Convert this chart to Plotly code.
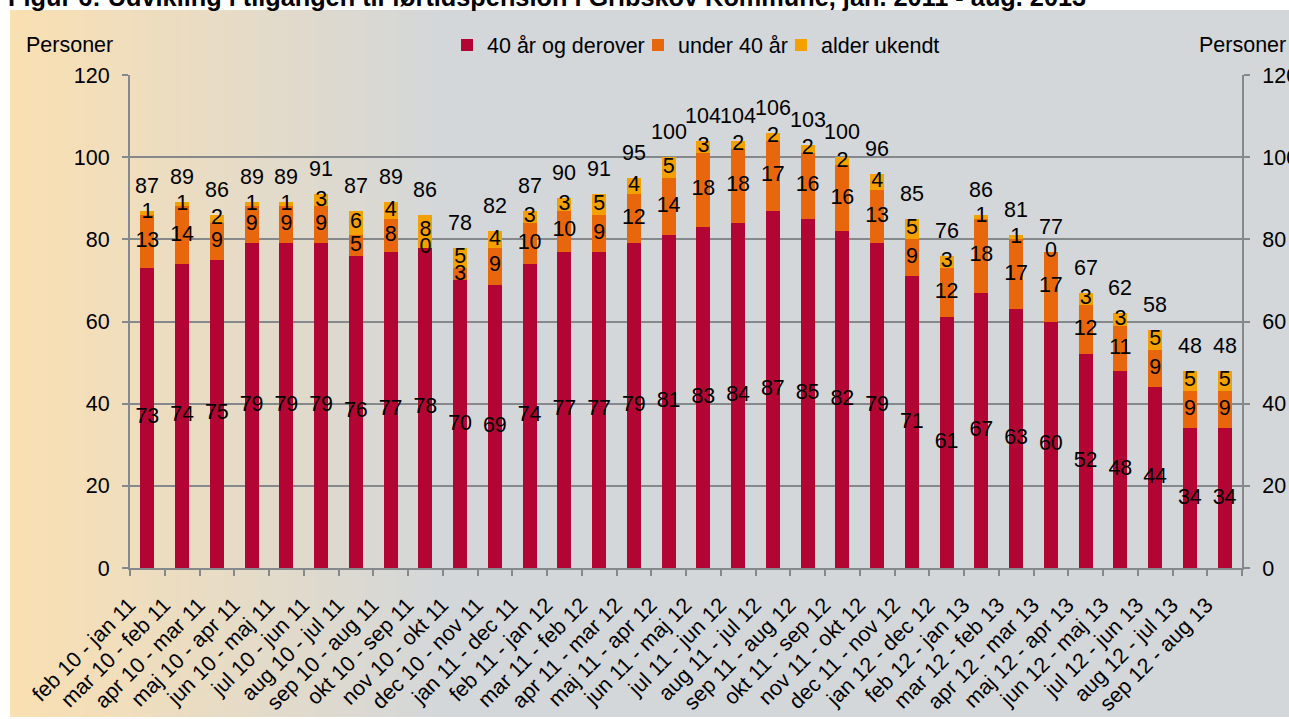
import plotly.graph_objects as go

categories = [
    "feb 10 - jan 11", "mar 10 - feb 11", "apr 10 - mar 11", "maj 10 - apr 11",
    "jun 10 - maj 11", "jul 10 - jun 11", "aug 10 - jul 11", "sep 10 - aug 11",
    "okt 10 - sep 11", "nov 10 - okt 11", "dec 10 - nov 11", "jan 11 - dec 11",
    "feb 11 - jan 12", "mar 11 - feb 12", "apr 11 - mar 12", "maj 11 - apr 12",
    "jun 11 - maj 12", "jul 11 - jun 12", "aug 11 - jul 12", "sep 11 - aug 12",
    "okt 11 - sep 12", "nov 11 - okt 12", "dec 11 - nov 12", "jan 12 - dec 12",
    "feb 12 - jan 13", "mar 12 - feb 13", "apr 12 - mar 13", "maj 12 - apr 13",
    "jun 12 - maj 13", "jul 12 - jun 13", "aug 12 - jul 13", "sep 12 - aug 13",
]
over40 = [73, 74, 75, 79, 79, 79, 76, 77, 78, 70, 69, 74, 77, 77, 79, 81,
          83, 84, 87, 85, 82, 79, 71, 61, 67, 63, 60, 52, 48, 44, 34, 34]
under40 = [13, 14, 9, 9, 9, 9, 5, 8, 0, 3, 9, 10, 10, 9, 12, 14,
           18, 18, 17, 16, 16, 13, 9, 12, 18, 17, 17, 12, 11, 9, 9, 9]
unknown = [1, 1, 2, 1, 1, 3, 6, 4, 8, 5, 4, 3, 3, 5, 4, 5,
           3, 2, 2, 2, 2, 4, 5, 3, 1, 1, 0, 3, 3, 5, 5, 5]
totals = [a + b + c for a, b, c in zip(over40, under40, unknown)]

series_names = ["40 år og derover", "under 40 år", "alder ukendt"]
colors = ["#B30533", "#E9670C", "#F4A100"]
y_ticks = [0, 20, 40, 60, 80, 100, 120]

title_text = "Figur 6: Udvikling i tilgangen til førtidspension i Gribskov Kommune, jan. 2011 - aug. 2013"

W, H = 1289, 719
L, R, T, B = 130, 47, 75, 151
PW, PH = W - L - R, H - T - B
FONT = "Liberation Sans, Arial, sans-serif"
FS = 21.5


def px_x(px):
    return (px - L) / PW


def px_y(py):
    return (H - B - py) / PH


fig = go.Figure()

legend_ids = ["legend", "legend2", "legend3"]
legend_px = [447, 638, 781]

series = [over40, under40, unknown]
base = [0] * len(categories)
for name, vals, col, lid in zip(series_names, series, colors, legend_ids):
    fig.add_trace(go.Bar(
        x=categories, y=vals, name=name, marker=dict(color=col, line=dict(width=0)),
        hoverinfo="skip", legend=lid,
    ))
    mids = [b + v / 2 for b, v in zip(base, vals)]
    fig.add_trace(go.Scatter(
        x=categories, y=mids, mode="text", text=[str(v) for v in vals],
        textposition="middle center", textfont=dict(family=FONT, size=FS, color="black"),
        showlegend=False, hoverinfo="skip", cliponaxis=False,
    ))
    base = [b + v for b, v in zip(base, vals)]

# invisible trace so that the right-hand axis is drawn
fig.add_trace(go.Scatter(x=categories, y=totals, yaxis="y2", mode="markers",
                         marker=dict(opacity=0), showlegend=False, hoverinfo="skip"))

annotations = []
for c, t in zip(categories, totals):
    annotations.append(dict(
        x=c, y=t, xref="x", yref="y", text=str(t), showarrow=False,
        yanchor="middle", yshift=25, font=dict(family=FONT, size=FS, color="black"),
    ))

annotations.append(dict(x=px_x(69), y=px_y(45), xref="paper", yref="paper", text="Personer",
                        showarrow=False, xanchor="center", yanchor="middle",
                        font=dict(family=FONT, size=FS, color="black")))
annotations.append(dict(x=px_x(1242), y=px_y(45), xref="paper", yref="paper", text="Personer",
                        showarrow=False, xanchor="center", yanchor="middle",
                        font=dict(family=FONT, size=FS, color="black")))
annotations.append(dict(x=px_x(6), y=px_y(-3), xref="paper", yref="paper", text="<b>" + title_text + "</b>",
                        showarrow=False, xanchor="left", yanchor="middle",
                        font=dict(family=FONT, size=25.3, color="black")))

# background: grey panel with peach gradient on the left
shapes = [dict(type="rect", xref="paper", yref="paper", x0=px_x(10), x1=px_x(1300),
               y0=px_y(10), y1=px_y(717), fillcolor="#D4D7D9", line=dict(width=0), layer="below")]
c0 = (250, 224, 178)
c1 = (212, 215, 217)
n = 70
gx0, gx1 = 10, 440
for i in range(n):
    f = i / (n - 1)
    r = round(c0[0] + (c1[0] - c0[0]) * f)
    g = round(c0[1] + (c1[1] - c0[1]) * f)
    b = round(c0[2] + (c1[2] - c0[2]) * f)
    xa = gx0 + (gx1 - gx0) * i / n
    xb = gx0 + (gx1 - gx0) * (i + 1) / n + 0.8
    shapes.append(dict(type="rect", xref="paper", yref="paper", x0=px_x(xa), x1=px_x(xb),
                       y0=px_y(10), y1=px_y(717), fillcolor=f"rgb({r},{g},{b})",
                       line=dict(width=0), layer="below"))

legend_common = dict(orientation="h", yanchor="middle", xanchor="left",
                     bgcolor="rgba(0,0,0,0)", font=dict(family=FONT, size=FS, color="black"),
                     itemwidth=30)

axis_col = "#85898C"
fig.update_layout(
    width=W, height=H,
    margin=dict(l=L, r=R, t=T, b=B, autoexpand=False),
    paper_bgcolor="white", plot_bgcolor="rgba(0,0,0,0)",
    barmode="stack", bargap=0.6,
    font=dict(family=FONT, size=FS, color="black"),
    showlegend=True,
    legend=dict(x=px_x(legend_px[0]), y=px_y(45), **legend_common),
    legend2=dict(x=px_x(legend_px[1]), y=px_y(45), **legend_common),
    legend3=dict(x=px_x(legend_px[2]), y=px_y(45), **legend_common),
    xaxis=dict(type="category", range=[-0.5, len(categories) - 0.5], tickangle=-45,
               ticks="outside", tickson="boundaries", ticklabelstandoff=14, ticklabelshift=-18,
               ticklen=6, tickwidth=2, tickcolor=axis_col, showline=True, linecolor=axis_col,
               linewidth=2, showgrid=False, tickfont=dict(family=FONT, size=FS, color="black")),
    yaxis=dict(range=[0, 120], tickvals=y_ticks, ticks="outside", ticklen=6, tickwidth=2,
               tickcolor=axis_col, showline=True, linecolor=axis_col, linewidth=2,
               showgrid=True, gridcolor=axis_col, gridwidth=2, zeroline=False,
               ticklabelstandoff=8, tickfont=dict(family=FONT, size=FS, color="black")),
    yaxis2=dict(range=[0, 120], tickvals=y_ticks, overlaying="y", side="right", anchor="x",
                ticks="outside", ticklen=6, tickwidth=2, tickcolor=axis_col, showline=True,
                linecolor=axis_col, linewidth=2, showgrid=False, zeroline=False,
                ticklabelstandoff=8, tickfont=dict(family=FONT, size=FS, color="black")),
    annotations=annotations,
    shapes=shapes,
)

fig.write_html("out.html", config={"displayModeBar": False},
               post_script="document.body.style.margin='0';document.body.style.overflow='hidden';")
